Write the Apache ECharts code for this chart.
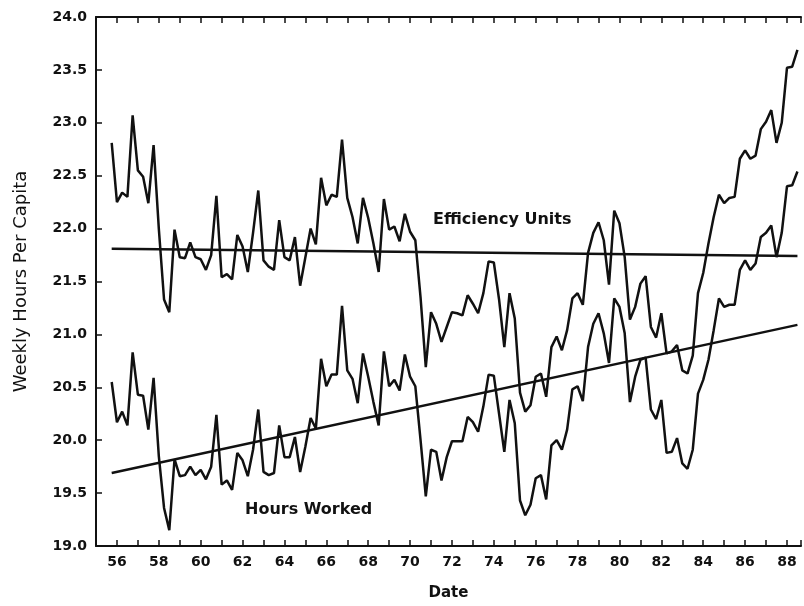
<!DOCTYPE html>
<html>
<head>
<meta charset="utf-8">
<title>Weekly Hours Per Capita</title>
<script src="https://cdn.jsdelivr.net/npm/echarts@6/dist/echarts.min.js"></script>
<style>
    html, body { margin: 0; padding: 0; background: #fff; }
    #chart { width: 804px; height: 606px; }
</style>
</head>
<body>
<div id="chart"></div>
<script>
// quarterly series, first quarter plotted at 55.75
var startYear = 55.75;
var step = 0.25;

var effUnits = [
    22.81, 22.25, 22.34, 22.30, 23.07, 22.55, 22.49, 22.24, 22.79, 22.00,
    21.33, 21.21, 21.99, 21.73, 21.72, 21.87, 21.73, 21.71, 21.61, 21.75,
    22.31, 21.54, 21.57, 21.52, 21.94, 21.83, 21.59, 21.96, 22.36, 21.70,
    21.64, 21.61, 22.08, 21.73, 21.70, 21.92, 21.46, 21.73, 22.00, 21.85,
    22.48, 22.22, 22.32, 22.30, 22.84, 22.29, 22.11, 21.86, 22.29, 22.10,
    21.86, 21.59, 22.28, 21.99, 22.02, 21.88, 22.14, 21.97, 21.89, 21.35,
    20.69, 21.21, 21.10, 20.93, 21.07, 21.21, 21.20, 21.18, 21.37, 21.29,
    21.20, 21.39, 21.69, 21.68, 21.33, 20.88, 21.39, 21.15, 20.45, 20.27,
    20.33, 20.60, 20.63, 20.41, 20.88, 20.98, 20.85, 21.04, 21.34, 21.39,
    21.28, 21.77, 21.96, 22.06, 21.89, 21.47, 22.17, 22.05, 21.73, 21.14,
    21.26, 21.48, 21.55, 21.07, 20.97, 21.20, 20.82, 20.84, 20.90, 20.66,
    20.63, 20.80, 21.39, 21.58, 21.86, 22.11, 22.32, 22.24, 22.29, 22.30,
    22.66, 22.74, 22.66, 22.69, 22.94, 23.01, 23.12, 22.81, 23.00, 23.52,
    23.53, 23.69
];

var hoursWorked = [
    20.55, 20.17, 20.27, 20.14, 20.83, 20.43, 20.42, 20.10, 20.59, 19.85,
    19.36, 19.15, 19.82, 19.66, 19.67, 19.75, 19.67, 19.72, 19.63, 19.75,
    20.24, 19.58, 19.62, 19.53, 19.88, 19.81, 19.66, 19.91, 20.29, 19.70,
    19.67, 19.69, 20.14, 19.84, 19.84, 20.03, 19.70, 19.94, 20.21, 20.11,
    20.77, 20.51, 20.62, 20.62, 21.27, 20.66, 20.58, 20.35, 20.82, 20.60,
    20.36, 20.14, 20.84, 20.51, 20.57, 20.47, 20.81, 20.60, 20.51, 20.00,
    19.47, 19.91, 19.89, 19.62, 19.84, 19.99, 19.99, 19.99, 20.22, 20.17,
    20.08, 20.32, 20.62, 20.61, 20.25, 19.89, 20.38, 20.16, 19.43, 19.29,
    19.39, 19.64, 19.67, 19.44, 19.95, 20.00, 19.91, 20.10, 20.48, 20.51,
    20.37, 20.88, 21.10, 21.20, 21.01, 20.73, 21.34, 21.26, 21.01, 20.36,
    20.60, 20.76, 20.78, 20.29, 20.20, 20.38, 19.88, 19.89, 20.02, 19.78,
    19.73, 19.91, 20.44, 20.57, 20.76, 21.04, 21.34, 21.26, 21.28, 21.28,
    21.61, 21.70, 21.61, 21.67, 21.92, 21.96, 22.03, 21.73, 21.96, 22.40,
    22.41, 22.54
];

// fitted trend lines: [start, end]
var trendYears = [55.75, 88.5];
var effTrend = [21.81, 21.74];
var hoursTrend = [19.69, 21.09];

var yTicks = [19.0, 19.5, 20.0, 20.5, 21.0, 21.5, 22.0, 22.5, 23.0, 23.5, 24.0];

function pairs(xs, ys) {
    return ys.map(function (v, i) { return [xs[i], v]; });
}
var years = effUnits.map(function (v, i) { return startYear + i * step; });

var ink = '#111';
var tickFont = { fontFamily: 'DejaVu Sans', fontWeight: 'bold', fontSize: 14, color: ink };

var myChart = echarts.init(document.getElementById('chart'));
var option = {
    animation: false,
    backgroundColor: '#fff',
    grid: { left: 96, right: 0, top: 17, bottom: 60 },
    xAxis: [
        {
            type: 'value',
            min: 55,
            max: 88.67,     // the scan is cut off just past 88.5
            interval: 1,
            name: 'Date',
            nameLocation: 'middle',
            nameGap: 40,
            nameTextStyle: { fontFamily: 'DejaVu Sans', fontWeight: 'bold', fontSize: 15, color: ink },
            axisLine: { show: true, lineStyle: { color: ink, width: 2 } },
            axisTick: { inside: true, length: 6, lineStyle: { color: ink, width: 1.5 } },
            axisLabel: {
                margin: 9,
                textStyle: tickFont,
                formatter: function (v) {   // only every other year gets a label
                    return (v % 2 === 0) ? String(v) : '';
                }
            },
            splitLine: { show: false }
        },
        {
            type: 'value',
            position: 'top',
            min: 55,
            max: 88.67,
            interval: 1,
            axisLine: { show: true, lineStyle: { color: ink, width: 2 } },
            axisTick: { inside: true, length: 6, lineStyle: { color: ink, width: 1.5 } },
            axisLabel: { show: false },
            splitLine: { show: false }
        }
    ],
    yAxis: {
        type: 'value',
        min: yTicks[0],
        max: yTicks[yTicks.length - 1],
        interval: 0.5,
        name: 'Weekly Hours Per Capita',
        nameLocation: 'middle',
        nameGap: 66,
        nameTextStyle: { fontFamily: 'DejaVu Sans', fontSize: 18, color: ink },
        axisLine: { show: true, lineStyle: { color: ink, width: 2 } },
        axisTick: { inside: true, length: 6, lineStyle: { color: ink, width: 1.5 } },
        axisLabel: {
            margin: 9,
            textStyle: tickFont,
            formatter: function (v) { return v.toFixed(1); }
        },
        splitLine: { show: false }
    },
    series: [
        {
            name: 'Efficiency Units',
            type: 'line',
            symbol: 'none',
            data: pairs(years, effUnits),
            lineStyle: { color: ink, width: 2.5 }
        },
        {
            name: 'Hours Worked',
            type: 'line',
            symbol: 'none',
            data: pairs(years, hoursWorked),
            lineStyle: { color: ink, width: 2.5 }
        },
        {
            name: 'Efficiency trend',
            type: 'line',
            symbol: 'none',
            data: pairs(trendYears, effTrend),
            lineStyle: { color: ink, width: 2.5 }
        },
        {
            name: 'Hours trend',
            type: 'line',
            symbol: 'none',
            data: pairs(trendYears, hoursTrend),
            lineStyle: { color: ink, width: 2.5 }
        }
    ],
    graphic: [
        {
            type: 'text', left: 433, top: 212,
            style: { text: 'Efficiency Units', font: 'bold 16px "DejaVu Sans"', fill: ink }
        },
        {
            type: 'text', left: 245, top: 502,
            style: { text: 'Hours Worked', font: 'bold 16px "DejaVu Sans"', fill: ink }
        }
    ]
};
myChart.setOption(option);
</script>
</body>
</html>
